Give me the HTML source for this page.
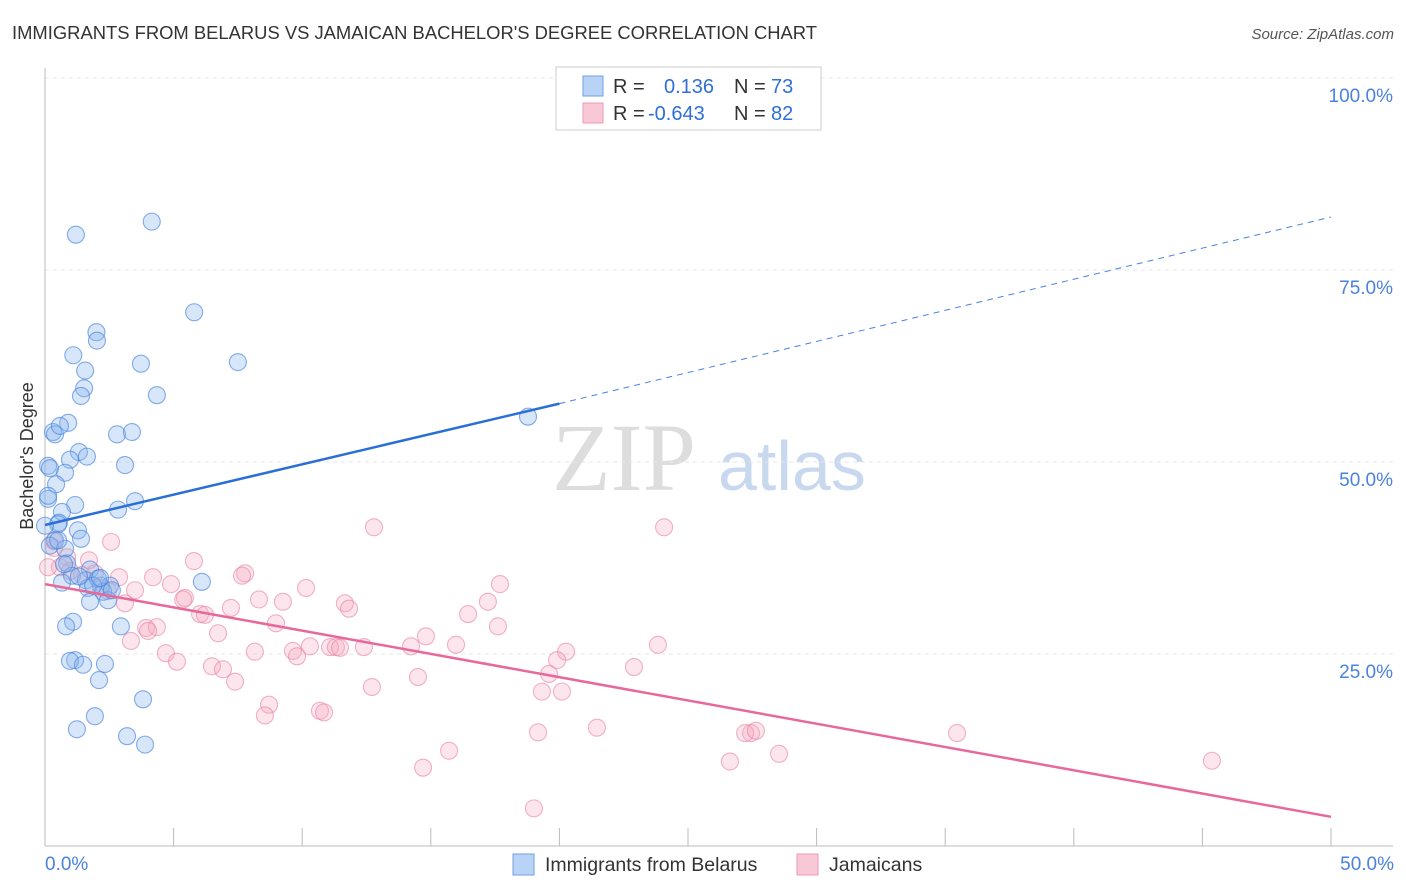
<!DOCTYPE html>
<html><head><meta charset="utf-8"><style>
body{margin:0;background:#fff;font-family:"Liberation Sans",sans-serif;}
#wrap{position:relative;width:1406px;height:892px;overflow:hidden;}
</style></head><body><div id="wrap">
<svg id="svg" width="1406" height="892" xmlns="http://www.w3.org/2000/svg">
<text x="12" y="39" font-size="18.4" fill="#333">IMMIGRANTS FROM BELARUS VS JAMAICAN BACHELOR'S DEGREE CORRELATION CHART</text>
<text x="1394" y="39" font-size="15" fill="#555" font-style="italic" text-anchor="end">Source: ZipAtlas.com</text>
<text x="33" y="456" font-size="18" fill="#333" text-anchor="middle" transform="rotate(-90 33 456)">Bachelor's Degree</text>
<g><text x="552" y="490" font-size="96" font-family="Liberation Serif,serif" fill="#ddd">ZIP</text><text x="718" y="490" font-size="70" fill="#c8d9ef">atlas</text></g>
<g id="grid"></g><g id="marks"></g>
<g>
<rect x="556" y="67" width="265" height="63" fill="#fff" stroke="#ccc"/>
<rect x="583" y="76" width="20" height="20" fill="#b8d3f5" stroke="#6fa0e6"/>
<rect x="583" y="103" width="20" height="20" fill="#f9c8d6" stroke="#ee99b4"/>
<text y="93" font-size="20" fill="#333"><tspan x="613">R =</tspan><tspan fill="#2f6fd6" x="664">0.136</tspan><tspan fill="#333" x="734">N =</tspan><tspan fill="#2f6fd6" x="771">73</tspan></text>
<text y="120" font-size="20" fill="#333"><tspan x="613">R =</tspan><tspan fill="#2f6fd6" x="648">-0.643</tspan><tspan fill="#333" x="734">N =</tspan><tspan fill="#2f6fd6" x="771">82</tspan></text>
</g>
<g>
<rect x="513" y="854" width="21" height="21" fill="#b8d3f5" stroke="#6fa0e6"/>
<text x="545" y="871" font-size="19.5" fill="#333">Immigrants from Belarus</text>
<rect x="797" y="854" width="21" height="21" fill="#f9c8d6" stroke="#ee99b4"/>
<text x="829" y="871" font-size="19.5" fill="#333">Jamaicans</text>
</g>
</svg></div>
<script>
const xTicks=[0,5,10,15,20,25,30,35,40,45,50];
const yTicks=[25,50,75,100];
const blueX=[4.15,1.2,5.8,2,2.02,7.5,1.1,3.73,1.56,1.52,1.4,4.35,0.9,0.31,0.39,2.8,3.38,1.32,1.63,0.97,3.11,0.78,0.12,0.19,0.43,0.12,1.17,3.5,2.84,0.66,0.54,0.51,1.28,1.4,0.39,0.19,0.78,0.86,1.75,1.05,0.66,1.59,2.18,2.53,1.67,2.26,6.1,1.75,2.45,1.09,0.82,2.95,1.17,0.97,1.48,2.33,2.1,3.81,1.94,1.24,3.19,3.89,18.78,2.06,1.87,1.32,0.51,0.58,0.12,0,2.6,0.74,2.14];
const blueY=[81.3,79.6,69.5,66.9,65.8,63,63.9,62.8,61.9,59.6,58.6,58.7,55.1,53.9,53.6,53.6,53.9,51.3,50.7,50.3,49.6,48.6,49.5,49.2,47.1,45.2,44.4,44.9,43.8,43.5,42.1,41.9,41.1,40,39.8,39.1,38.7,36.8,36,35.2,34.3,34.6,33.9,33.9,33.6,33.1,34.4,31.8,32,29.2,28.6,28.6,24.2,24.1,23.6,23.7,21.6,19.1,16.9,15.2,14.3,13.2,55.9,34.8,33.9,35.1,39.8,54.7,45.6,41.7,33.3,36.7,34.9];
const pinkX=[12.79,24.07,2.57,0.35,0.86,5.79,1.71,0.58,0.12,7.78,7.66,4.2,1.44,1.94,2.88,4.9,17.69,10.15,2.18,3.5,5.44,5.37,8.32,9.25,11.66,17.22,3.11,7.23,11.82,6.03,6.22,16.45,8.98,3.93,4.35,17.61,6.73,3.34,14.81,15.98,23.83,10.3,11.08,11.31,11.47,12.4,14.23,9.64,9.8,4.7,8.16,5.13,20.26,19.91,6.49,6.92,22.9,19.6,14.5,7.39,12.71,19.32,20.1,8.71,8.55,10.69,10.85,19.17,21.46,27.45,27.22,27.64,35.46,28.54,15.71,26.63,14.7,45.37,19.01,0.35,0.97,2.45,4.01];
const pinkY=[41.5,41.5,39.6,38.8,37.6,37.1,37.2,36.3,36.3,35.5,35.2,35,35.3,35.5,35,34.1,34.1,33.6,33.6,33.3,32.3,32.1,32.1,31.8,31.6,31.8,31.6,31,30.9,30.2,30.1,30.2,29,28.4,28.5,28.6,27.7,26.7,27.3,26.2,26.2,26.0,25.9,25.9,25.8,25.9,26,25.4,24.7,25.1,25.3,24,25.3,24.2,23.4,23,23.3,22.4,22,21.4,20.7,20.1,20.1,18.4,17,17.6,17.4,14.8,15.4,14.7,14.7,15,14.7,12,12.4,11,10.2,11.1,4.9,39.7,35.8,33.2,28];
const blueTrend=[0,41.8,20,57.6,50,81.9];
const pinkTrend=[0,34.1,50,3.8];

const NS='http://www.w3.org/2000/svg';
const X0=45,X1=1331,Y0=846,Y100=78;
function sx(v){return X0+(X1-X0)*v/50;}
function sy(v){return Y0-(Y0-Y100)*v/100;}
function mk(tag,attrs,parent){const e=document.createElementNS(NS,tag);for(const k in attrs)e.setAttribute(k,attrs[k]);parent.appendChild(e);return e;}
const grid=document.getElementById('grid');
const marks=document.getElementById('marks');
yTicks.forEach(t=>{
  const l=mk('line',{x1:X0,x2:1393,y1:sy(t),y2:sy(t),stroke:'#e6e6e6','stroke-dasharray':'4,4'},grid);
  
  
  const tx=mk('text',{x:1393,y:sy(t)+24,'font-size':19,fill:'#4a82dc','text-anchor':'end'},grid);
  tx.textContent=t.toFixed(1)+'%';
  
  
});
const ax=mk('line',{x1:X0,x2:X0,y1:68,y2:846,stroke:'#bbb'},grid);


const bx=mk('line',{x1:X0,x2:1393,y1:846,y2:846,stroke:'#bbb'},grid);


xTicks.forEach(t=>{
  const l=mk('line',{x1:sx(t),x2:sx(t),y1:828,y2:846,stroke:'#bbb'},grid);
  
  
});
[[0,'start'],[50,'end']].forEach(([t,a])=>{
  const tx=mk('text',{x:a==='start'?45:1394,y:870,'font-size':19,fill:'#4a82dc','text-anchor':a},grid);
  tx.textContent=t.toFixed(1)+'%';
  
  
});
pinkX.forEach((x,i)=>{
  const c=mk('circle',{cx:sx(x),cy:sy(pinkY[i]),r:8.5,fill:'rgba(244,170,192,0.3)',stroke:'rgba(232,130,162,0.6)','stroke-width':1.1},marks);
  
  
});
blueX.forEach((x,i)=>{
  const c=mk('circle',{cx:sx(x),cy:sy(blueY[i]),r:8.5,fill:'rgba(140,182,238,0.35)',stroke:'rgba(70,130,220,0.65)','stroke-width':1.1},marks);
  
  
});
const bt1=mk('line',{x1:sx(blueTrend[0]),y1:sy(blueTrend[1]),x2:sx(blueTrend[2]),y2:sy(blueTrend[3]),stroke:'#2a6fd6','stroke-width':2.5},marks);


const bt2=mk('line',{x1:sx(blueTrend[2]),y1:sy(blueTrend[3]),x2:sx(blueTrend[4]),y2:sy(blueTrend[5]),stroke:'#4a82dc','stroke-width':1,'stroke-dasharray':'6,5'},marks);


const pt=mk('line',{x1:sx(pinkTrend[0]),y1:sy(pinkTrend[1]),x2:sx(pinkTrend[2]),y2:sy(pinkTrend[3]),stroke:'#e8689a','stroke-width':2.5},marks);


</script>
</body></html>
